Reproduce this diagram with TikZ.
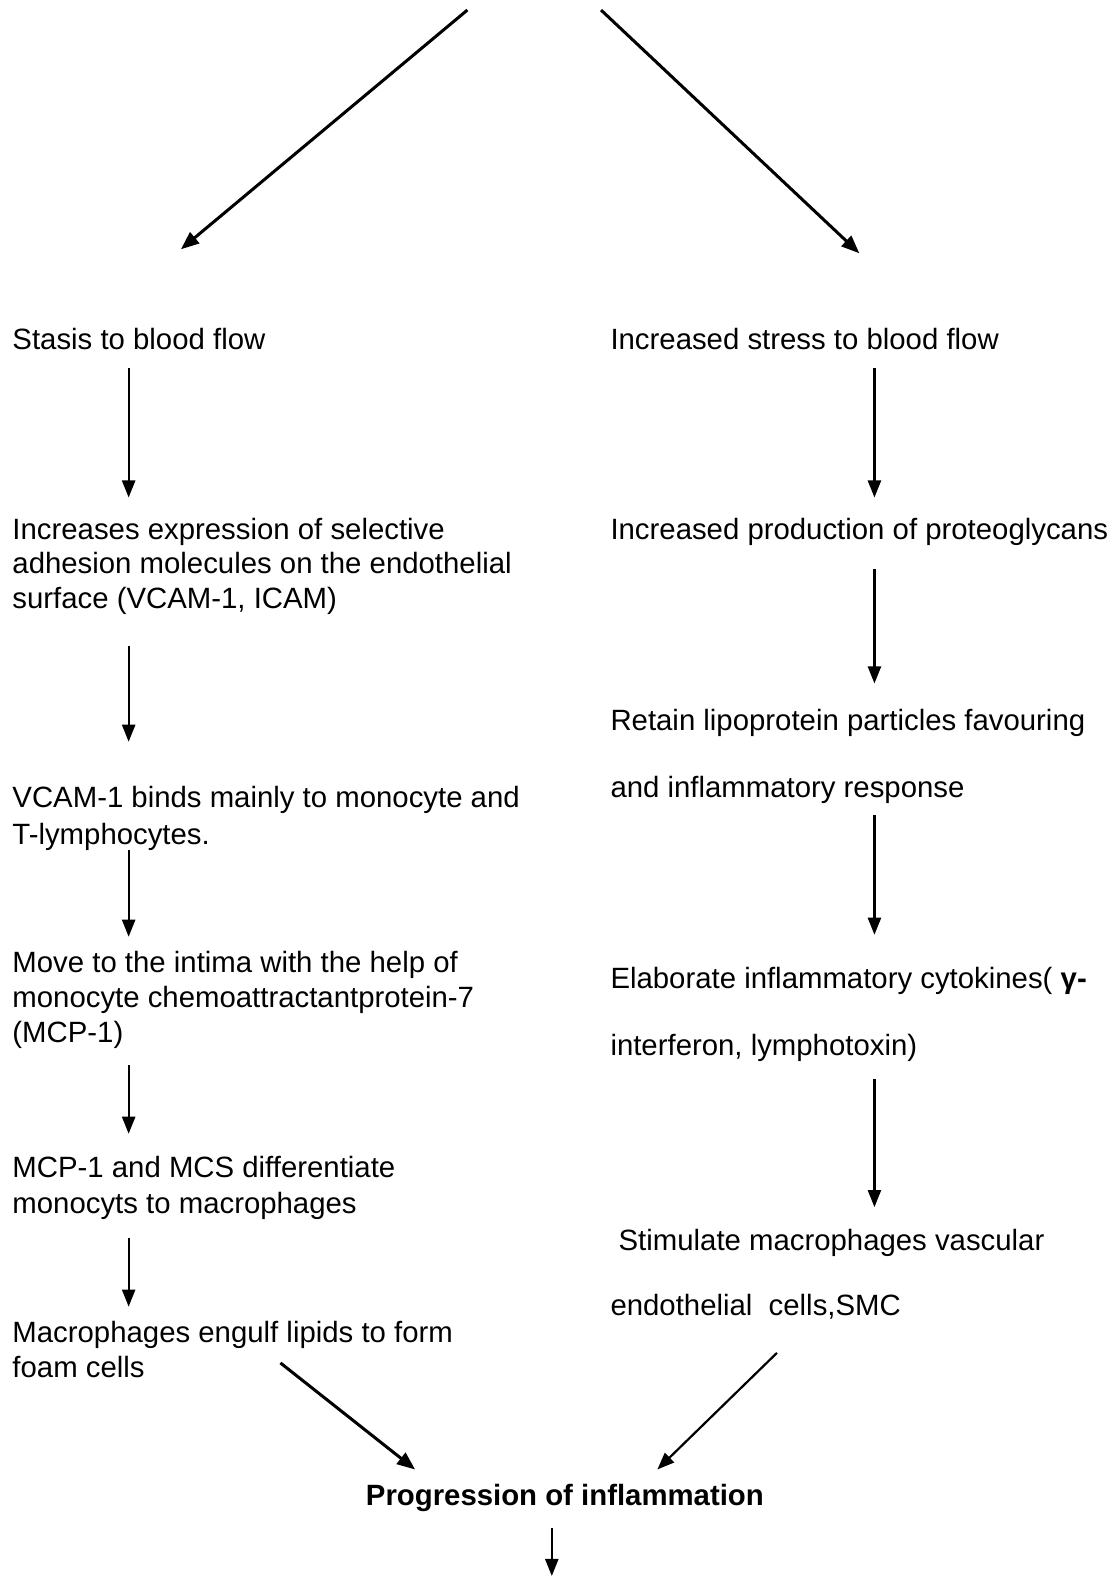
\documentclass[tikz,border=0pt]{standalone}
\usepackage{fontspec}
\setmainfont{Liberation Sans}
\usetikzlibrary{arrows.meta}
\tikzset{
  txt/.style={anchor=base west, inner sep=0pt, align=left, font=\fontsize{14.6pt}{#1pt}\selectfont},
  txt/.default=17,
  arr/.style={line width=1.1pt, -{Triangle[length=8.5pt,width=6.5pt]}},
  darr/.style={line width=1.5pt, -{Triangle[length=9pt,width=7pt]}}
}
\begin{document}
\begin{tikzpicture}[x=0.5pt,y=-0.5pt]
\useasboundingbox (0,0) rectangle (1108,1568);
% left column (anchors at the baseline of the last line)
\node[txt] (l1) at (12,348) {Stasis to blood flow};
\node[txt=17] (l2) at (12,605) {Increases expression of selective\\adhesion molecules on the endothelial\\surface (VCAM-1, ICAM)};
\node[txt=18.5] (l3) at (12,840) {VCAM-1 binds mainly to monocyte and\\T-lymphocytes.};
\node[txt=17.25] (l4) at (12,1037) {Move to the intima with the help of\\monocyte chemoattractantprotein-7\\(MCP-1)};
\node[txt=17.5] (l5) at (12,1207) {MCP-1 and MCS differentiate\\monocyts to macrophages};
\node[txt=17] (l6) at (12,1370) {Macrophages engulf lipids to form\\foam cells};
% right column
\node[txt] (r1) at (607,348) {Increased stress to blood flow};
\node[txt] (r2) at (607,537) {Increased production of proteoglycans};
\node[txt=33] (r3) at (607,793) {Retain lipoprotein particles favouring\\and inflammatory response};
\node[txt=33.5] (r4) at (607,1050) {Elaborate inflammatory cytokines( {\bfseries γ-}\\interferon, lymphotoxin)};
\node[txt=32.5] (r5) at (607,1309) {\ Stimulate macrophages vascular\\endothelial\ \ cells,SMC};
% bottom
\node[inner sep=0pt, anchor=base, font=\fontsize{14.6pt}{17pt}\selectfont\bfseries] (p) at (562,1498) {Progression of inflammation};
% free ends
\coordinate (tL) at (465,10);
\coordinate (tR) at (598,10);
\coordinate (bot) at (549,1568);
\draw[darr] (tL) -- (180,248);
\draw[darr] (tR) -- (855,252);
% left arrows
\draw[arr] (128,366) -- (128,495);
\draw[arr] (128,643) -- (128,738);
\draw[arr] (128,846) -- (128,932);
\draw[arr] (128,1060) -- (128,1128);
\draw[arr] (128,1232) -- (128,1300);
% right arrows
\draw[arr] (870,366) -- (870,495);
\draw[arr] (870,566) -- (870,680);
\draw[arr] (870,811) -- (870,930);
\draw[arr] (870,1074) -- (870,1201);
% to progression
\draw[darr] (279,1356) -- (413,1462);
\draw[arr] (773,1346) -- (654,1462);
\draw[arr] (549,1520) -- (bot);
\end{tikzpicture}
\end{document}
